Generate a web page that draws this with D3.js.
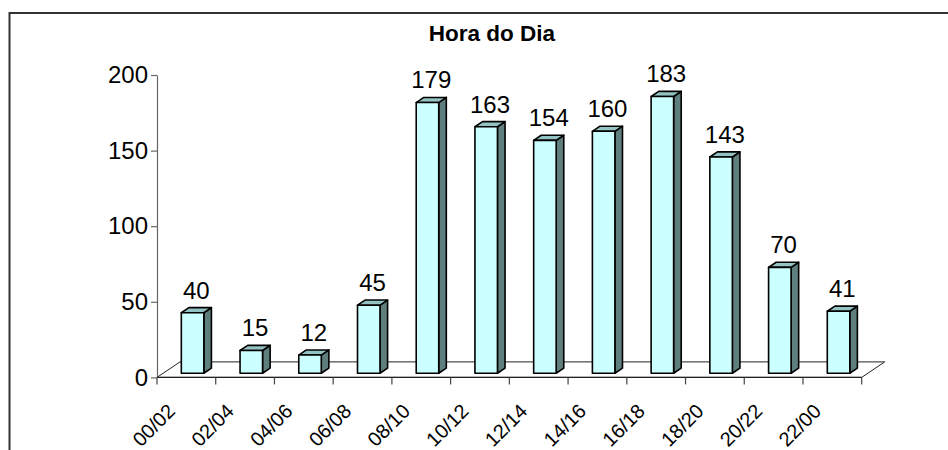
<!DOCTYPE html>
<html lang="en">
<head>
  <meta charset="UTF-8">
  <title>Hora do Dia</title>
  <style>
    body {
      margin: 0;
      overflow: hidden;
      background: #fff;
    }
    text {
      font-family: "Liberation Sans", Arial, sans-serif;
    }
  </style>
</head>
<body>
  <div class="chart"></div>
  <script src="https://cdnjs.cloudflare.com/ajax/libs/d3/7.8.5/d3.min.js"></script>
  <script>
    const categories = ['00/02', '02/04', '04/06', '06/08', '08/10', '10/12',
                        '12/14', '14/16', '16/18', '18/20', '20/22', '22/00'];
    const values = [40, 15, 12, 45, 179, 163, 154, 160, 183, 143, 70, 41];
    const yTicks = [0, 50, 100, 150, 200];
    const title = 'Hora do Dia';

    const width = 948;
    const height = 450;

    // floor depth (3d look) and where the bars sit inside it
    const depth = { x: 23, y: -15.5 };
    const barFront = 0.27;
    const barDepth = 0.33;
    const barWidth = 22.5;

    const xScale = d3.scaleBand()
      .domain(categories)
      .range([157, 861.7]);

    const yScale = d3.scaleLinear()
      .domain([0, 200])
      .range([377.4, 75]);

    const svg = d3.select('.chart')
      .append('svg')
      .attr('width', width)
      .attr('height', height);

    // outer frame, cut off at right and bottom like the original
    svg.append('rect')
      .attr('x', 9.5)
      .attr('y', 13)
      .attr('width', 1000)
      .attr('height', 1000)
      .attr('fill', 'none')
      .attr('stroke', '#333')
      .attr('stroke-width', 2);

    svg.append('text')
      .attr('x', 492)
      .attr('y', 41)
      .attr('text-anchor', 'middle')
      .attr('font-size', 22.5)
      .attr('font-weight', 'bold')
      .text(title);

    // floor
    const x0 = xScale.range()[0];
    const x1 = xScale.range()[1];
    const y0 = yScale(0);
    svg.append('polygon')
      .attr('points', [
        [x0, y0], [x1, y0], [x1 + depth.x, y0 + depth.y], [x0 + depth.x, y0 + depth.y]
      ].map(p => p.join(',')).join(' '))
      .attr('fill', 'none')
      .attr('stroke', '#222')
      .attr('stroke-width', 1);

    // y axis
    const yAxis = svg.append('g')
      .attr('transform', `translate(${x0},0)`)
      .call(d3.axisLeft(yScale).tickValues(yTicks).tickSize(6).tickSizeOuter(0));
    yAxis.select('.domain').attr('stroke', '#666').attr('stroke-width', 1.2);
    yAxis.selectAll('.tick line').attr('stroke', '#666').attr('stroke-width', 1.2);
    yAxis.selectAll('.tick text')
      .attr('font-size', 24)
      .attr('font-family', '"Liberation Sans", Arial, sans-serif')
      .attr('fill', '#000')
      .attr('x', -9);

    // x axis: line plus ticks on band edges
    const xAxis = svg.append('g');
    xAxis.append('line')
      .attr('x1', x0).attr('x2', x1)
      .attr('y1', y0).attr('y2', y0)
      .attr('stroke', '#222')
      .attr('stroke-width', 1.2);
    const edges = categories.map(c => xScale(c)).concat([x1]);
    xAxis.selectAll('.edge')
      .data(edges)
      .join('line')
      .attr('class', 'edge')
      .attr('x1', d => d).attr('x2', d => d)
      .attr('y1', y0).attr('y2', y0 + 7)
      .attr('stroke', '#444')
      .attr('stroke-width', 1.2);
    xAxis.selectAll('.cat')
      .data(categories)
      .join('text')
      .attr('class', 'cat')
      .attr('text-anchor', 'end')
      .attr('font-size', 20)
      .attr('transform', d => `translate(${xScale(d) + xScale.bandwidth() / 2 - 10},${y0 + 35}) rotate(-45)`)
      .text(d => d);

    // 3d bars
    const fdx = depth.x * barFront, fdy = depth.y * barFront;
    const bdx = depth.x * barDepth, bdy = depth.y * barDepth;
    const bars = categories.map((c, i) => {
      const left = xScale(c) + (xScale.bandwidth() - barWidth) / 2 + fdx;
      const base = y0 + fdy;
      const top = base - (y0 - yScale(values[i]));
      return { c, v: values[i], left, right: left + barWidth, base, top };
    });

    const pts = arr => arr.map(p => p.join(',')).join(' ');
    const g = svg.append('g')
      .attr('stroke', '#000')
      .attr('stroke-width', 1.6)
      .attr('stroke-linejoin', 'round');

    g.selectAll('.side')
      .data(bars)
      .join('polygon')
      .attr('fill', '#5f7f7f')
      .attr('points', b => pts([[b.right, b.top], [b.right + bdx, b.top + bdy],
                                 [b.right + bdx, b.base + bdy], [b.right, b.base]]));
    g.selectAll('.top')
      .data(bars)
      .join('polygon')
      .attr('fill', '#93c3c3')
      .attr('points', b => pts([[b.left, b.top], [b.left + bdx, b.top + bdy],
                                 [b.right + bdx, b.top + bdy], [b.right, b.top]]));
    g.selectAll('.front')
      .data(bars)
      .join('rect')
      .attr('fill', '#ccffff')
      .attr('x', b => b.left)
      .attr('y', b => b.top)
      .attr('width', barWidth)
      .attr('height', b => b.base - b.top);

    svg.selectAll('.val')
      .data(bars)
      .join('text')
      .attr('class', 'val')
      .attr('text-anchor', 'middle')
      .attr('font-size', 24)
      .attr('x', b => (b.left + b.right + bdx) / 2)
      .attr('y', b => b.top + bdy - 9)
      .text(b => b.v);
  </script>
</body>
</html>
